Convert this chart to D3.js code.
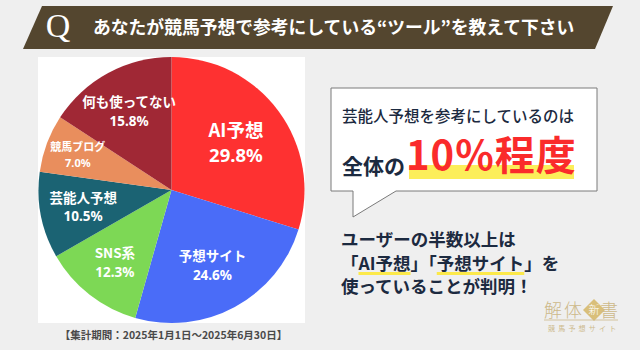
<!DOCTYPE html>
<html><head><meta charset="utf-8">
<script src="https://cdn.jsdelivr.net/npm/d3@7"></script>
<style>
html,body{margin:0;padding:0;background:#efefef;}
svg{display:block;}
text{font-family:"Noto Sans CJK JP","Noto Sans",sans-serif;}
</style></head>
<body>
<svg id="c" width="640" height="350"></svg>
<script>
// ---- data ----
const categories = ["AI予想","予想サイト","SNS系","芸能人予想","競馬ブログ","何も使ってない"];
const values = [29.8, 24.6, 12.3, 10.5, 7.0, 15.8];
const colors = ["#fe3131","#4a6cf8","#7dd855","#1b6373","#e98e5d","#a02835"];
const titleText = "あなたが競馬予想で参考にしている“ツール”を教えて下さい";
const periodText = "【集計期間：2025年1月1日～2025年6月30日】";

// ---- drawing ----
const svg = d3.select("#c");
svg.append("rect").attr("width",640).attr("height",350).attr("fill","#efefef");

// title bar
svg.append("path").attr("d","M42,6 L613,6 L595,49 L23,49 Z").attr("fill","#54462f");
svg.append("text").attr("x",58).attr("y",37).attr("text-anchor","middle")
  .style("font-family","'Liberation Serif','DejaVu Serif',serif").attr("font-size",34)
  .attr("fill","#fff").text("Q");
svg.append("text").attr("x",93).attr("y",34).attr("font-size",17.8).attr("font-weight",700)
  .attr("fill","#fff").text(titleText);

// pie panel
svg.append("rect").attr("x",38).attr("y",57).attr("width",267).attr("height",266).attr("fill","#fff");
const cx = 171.5, cy = 190, R = 133;
const pie = d3.pie().sort(null).value(d=>d.v);
const data = categories.map((c,i)=>({c, v:values[i], col:colors[i]}));
const arcs = pie(data);
const arc = d3.arc().innerRadius(0).outerRadius(R);
const g = svg.append("g").attr("transform",`translate(${cx},${cy})`);
g.selectAll("path.s").data(arcs).join("path").attr("class","s")
  .attr("d",arc).attr("fill",d=>d.data.col);

// label styling (per-slice radius & size)
const labelStyle = {
  "AI予想":{r:80, fs:18.5, gap:25},
  "予想サイト":{r:86, fs:13.5, gap:18.5},
  "SNS系":{r:92, fs:13.5, gap:18.5},
  "芸能人予想":{r:90, fs:13.5, gap:18.5},
  "競馬ブログ":{r:100, fs:11, gap:16},
  "何も使ってない":{r:89, fs:13.5, gap:18.5}
};
arcs.forEach(a=>{
  const st = labelStyle[a.data.c];
  const la = d3.arc().innerRadius(st.r).outerRadius(st.r);
  const [x,y] = la.centroid(a);
  g.append("text").attr("text-anchor","middle").attr("font-weight",700)
    .attr("fill","#fff").attr("font-size",st.fs)
    .attr("x",x).attr("y",y - st.gap/2 + st.fs*0.36).text(a.data.c);
  g.append("text").attr("text-anchor","middle").attr("font-weight",700)
    .style("font-family","'Noto Sans',sans-serif")
    .attr("fill","#fff").attr("font-size",st.fs)
    .attr("x",x).attr("y",y + st.gap/2 + st.fs*0.36).text(d3.format(".1f")(a.data.v)+"%");
});

svg.append("text").attr("x",173.5).attr("y",339).attr("text-anchor","middle")
  .attr("font-size",10.5).attr("font-weight",700).attr("fill","#4a4a4a").text(periodText);

// speech bubble
svg.append("path").attr("d","M331,88 L597,88 L597,191 L396,191 L353,217 L353,191 L331,191 Z")
  .attr("fill","#fff").attr("stroke","#7a7a7a").attr("stroke-width",1);
const navy = "#1c2a40";
svg.append("text").attr("x",342).attr("y",122).attr("font-size",15.5).attr("font-weight",500)
  .attr("fill",navy).text("芸能人予想を参考にしているのは");
svg.append("rect").attr("x",409).attr("y",165).attr("width",165).attr("height",14).attr("fill","#fcee5a");
svg.append("text").attr("x",342).attr("y",174).attr("font-size",21).attr("font-weight",700)
  .attr("fill",navy).text("全体の");
svg.append("text").attr("x",406).attr("y",170).attr("font-size",40).attr("font-weight",700)
  .attr("fill","#fa2b2b").attr("letter-spacing",1).text("10%程度");

// conclusion text with underlines
function runs(x, y, parts, fs){
  let cur = x;
  parts.forEach(p=>{
    const t = svg.append("text").attr("x",cur).attr("y",y).attr("font-size",fs)
      .attr("font-weight",700).attr("fill",navy).text(p.t);
    const w = t.node().getComputedTextLength();
    if(p.ul){
      svg.insert("rect","text").attr("x",cur).attr("y",y+2).attr("width",w).attr("height",3)
        .attr("fill","#fce94a");
    }
    cur += w;
  });
}
runs(341,246,[{t:"ユーザーの半数以上は"}],17.5);
runs(341,270,[{t:"「"},{t:"AI予想",ul:true},{t:"」「"},{t:"予想サイト",ul:true},{t:"」を"}],17.5);
runs(341,293,[{t:"使っていることが判明！"}],17.5);

// logo
const gold = "#cdb98a";
svg.append("text").attr("x",544).attr("y",317).attr("font-size",18).attr("font-weight",300)
  .attr("fill",gold).attr("letter-spacing",2).text("解体");
svg.append("path").attr("d","M594,299 L605,310 L594,321 L583,310 Z").attr("fill","#d9bf7a");
svg.append("text").attr("x",594).attr("y",314).attr("text-anchor","middle").attr("font-size",11)
  .attr("font-weight",300).attr("fill","#fff").text("新");
svg.append("text").attr("x",600).attr("y",317).attr("font-size",18).attr("font-weight",300)
  .attr("fill",gold).text("書");
svg.append("line").attr("x1",544).attr("x2",618).attr("y1",320).attr("y2",320)
  .attr("stroke",gold).attr("stroke-width",0.8);
svg.append("text").attr("x",548).attr("y",331).attr("font-size",7).attr("letter-spacing",3.2)
  .attr("fill",gold).text("競馬予想サイト");
</script>
</body></html>
